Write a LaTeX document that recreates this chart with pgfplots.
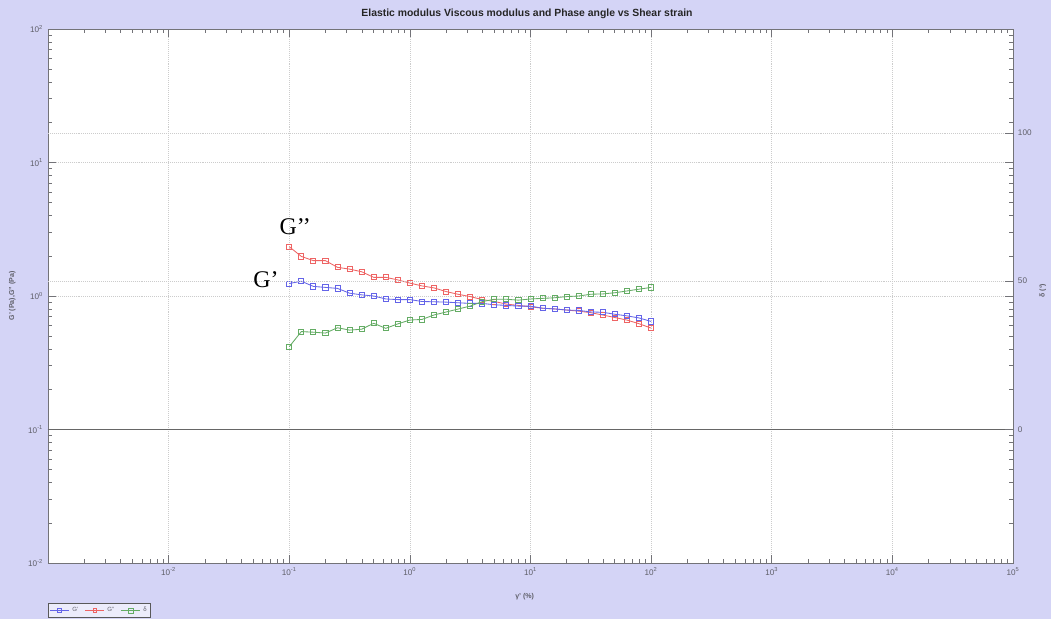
\documentclass[border=0pt]{standalone}
\usepackage{fontspec}
\setmainfont{Liberation Sans}
\newfontfamily\tnr{Liberation Serif}
\usepackage{pgfplots}
\usepackage{pgfplotstable}
\pgfplotsset{compat=1.18}

\definecolor{bgcol}{RGB}{212,212,246}
\definecolor{gpblue}{RGB}{100,100,232}
\definecolor{gppred}{RGB}{238,100,100}
\definecolor{dgreen}{RGB}{100,172,100}
\definecolor{axgray}{RGB}{115,115,120}
\definecolor{lblgray}{RGB}{95,95,105}

% shear strain (%), G' (Pa), G'' (Pa), phase angle (deg)
\pgfplotstableread{
x       Gp     Gpp    delta
0.1     1.24   2.34   27.9
0.1259  1.29   1.98   33.0
0.1585  1.18   1.84   32.8
0.1995  1.16   1.84   32.5
0.2512  1.14   1.64   34.3
0.3162  1.05   1.59   33.5
0.3981  1.02   1.52   33.8
0.5012  1.00   1.38   35.8
0.6310  0.95   1.38   34.1
0.7943  0.94   1.32   35.6
1.0     0.94   1.25   36.9
1.259   0.91   1.19   37.1
1.585   0.905  1.15   38.6
1.995   0.90   1.08   39.6
2.512   0.89   1.03   40.6
3.162   0.88   0.99   41.6
3.981   0.88   0.94   43.1
5.012   0.86   0.91   43.9
6.310   0.85   0.87   43.9
7.943   0.84   0.85   43.6
10.0    0.84   0.83   44.0
12.59   0.81   0.81   44.2
15.85   0.80   0.80   44.4
19.95   0.785  0.785  44.8
25.12   0.78   0.77   45.0
31.62   0.76   0.75   45.6
39.81   0.755  0.72   45.7
50.12   0.73   0.69   46.1
63.10   0.71   0.66   46.7
79.43   0.685  0.62   47.3
100.0   0.645  0.575  47.9
}\strain

\tikzset{
  lbl/.style={font=\bfseries\fontsize{5}{6}\selectfont, text=lblgray},
  tlbl/.style={font=\fontsize{5.8}{6}\selectfont, text=lblgray},
}
\pgfplotsset{
  ser/.style={line width=0.6pt, mark=square, mark size=1.8pt, mark options={solid}},
}

\begin{document}
\begin{tikzpicture}
\fill[bgcol] (0,0) rectangle (262.75mm,154.75mm);
\node[font=\bfseries\fontsize{7.4}{9}\selectfont, text=black!85] at (131.75mm,151.2mm)
  {Elastic modulus Viscous modulus and Phase angle vs Shear strain};

\begin{axis}[
  at={(12mm,14mm)}, anchor=south west,
  width=241.25mm, height=133.5mm, scale only axis,
  xmode=log, ymode=log, log basis x=10, log basis y=10,
  xmin=1e-3, xmax=1e5, ymin=1e-2, ymax=1e2,
  xtick={1e-2,1e-1,1,1e1,1e2,1e3,1e4,1e5},
  ytick={1e-2,1e-1,1,1e1,1e2},
  minor xtick={2e-3,3e-3,4e-3,5e-3,6e-3,7e-3,8e-3,9e-3,
    2e-2,3e-2,4e-2,5e-2,6e-2,7e-2,8e-2,9e-2,
    0.2,0.3,0.4,0.5,0.6,0.7,0.8,0.9,
    2,3,4,5,6,7,8,9,
    20,30,40,50,60,70,80,90,
    200,300,400,500,600,700,800,900,
    2000,3000,4000,5000,6000,7000,8000,9000,
    20000,30000,40000,50000,60000,70000,80000,90000},
  minor ytick={2e-2,3e-2,4e-2,5e-2,6e-2,7e-2,8e-2,9e-2,
    0.2,0.3,0.4,0.5,0.6,0.7,0.8,0.9,
    2,3,4,5,6,7,8,9,
    20,30,40,50,60,70,80,90},
  xticklabel={10\textsuperscript{\pgfmathparse{int(round(\tick))}\pgfmathresult}},
  yticklabel={10\textsuperscript{\pgfmathparse{int(round(\tick))}\pgfmathresult}},
  xticklabel pos=bottom, yticklabel pos=left,
  tick align=inside,
  major tick length=1.9mm, minor tick length=1.1mm,
  every tick/.style={axgray, line width=0.45pt},
  axis line style={axgray, line width=0.6pt},
  ticklabel style={tlbl},
  xmajorgrids, ymajorgrids,
  major grid style={densely dotted, gray!40, line width=0.45pt},
  axis background/.style={fill=white},
  xlabel={γ' (\%)}, ylabel={G' (Pa),G'' (Pa)},
  xlabel style={lbl, at={(axis description cs:0.494,-0.064)}, anchor=center},
  ylabel style={lbl, at={(axis description cs:-0.037,0.5)}, anchor=center},
]
\addplot[ser, gppred] table[x=x, y=Gpp] {\strain};
\addplot[ser, gpblue] table[x=x, y=Gp] {\strain};
\end{axis}

\begin{axis}[
  at={(12mm,14mm)}, anchor=south west,
  width=241.25mm, height=133.5mm, scale only axis,
  xmode=log, xmin=1e-3, xmax=1e5,
  ymin=-45, ymax=135,
  axis x line=none, axis y line*=right,
  ytick={50,100},
  extra y ticks={0},
  extra y tick style={major grid style={solid, black!60, line width=0.7pt}},
  ymajorgrids,
  major grid style={densely dotted, gray!40, line width=0.45pt},
  tick align=inside, major tick length=1.9mm,
  every tick/.style={axgray, line width=0.45pt},
  axis line style={axgray, line width=0.6pt},
  /pgf/number format/assume math mode=true,
  ticklabel style={tlbl},
  ylabel={δ (°)},
  ylabel style={lbl, at={(axis description cs:1.031,0.51)}, anchor=center},
  legend columns=3,
  legend image code/.code={\draw[mark repeat=2, mark phase=2, #1] plot coordinates {(0cm,0cm)(0.24cm,0cm)(0.48cm,0cm)};},
  legend style={at={(axis description cs:0,-0.075)}, anchor=north west,
    font=\fontsize{4.3}{5}\selectfont, text=lblgray, draw=black!65, line width=0.6pt,
    fill=white!55!bgcol, inner sep=0.7pt,
    /tikz/every even column/.append style={column sep=2.5pt},
    legend cell align=left},
]
\addlegendimage{ser, gpblue, mark size=1.2pt}\addlegendentry{G'}
\addlegendimage{ser, gppred, mark size=1.2pt}\addlegendentry{G''}
\addplot[ser, dgreen] table[x=x, y=delta] {\strain};
\addlegendentry{δ}
\end{axis}

\node[font=\tnr\fontsize{17}{18}\selectfont] at (73.8mm,98mm) {G’’};
\node[font=\tnr\fontsize{17}{18}\selectfont] at (66.5mm,84.8mm) {G’};
\end{tikzpicture}
\end{document}
